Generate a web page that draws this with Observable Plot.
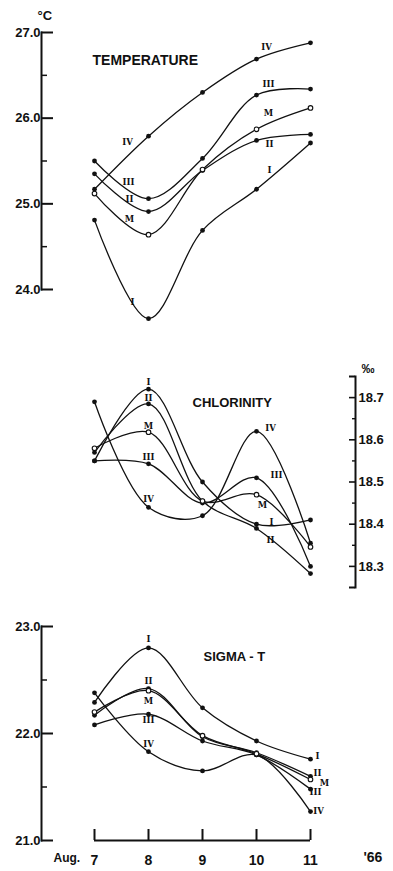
<!DOCTYPE html>
<html>
<head>
<meta charset="utf-8">
<script src="https://cdn.jsdelivr.net/npm/d3@7"></script>
<script src="https://cdn.jsdelivr.net/npm/@observablehq/plot@0.6"></script>
<style>
  html, body { margin: 0; padding: 0; background: #fff; }
  #chart { width: 393px; height: 871px; position: relative; }
  #chart svg { display: block; overflow: visible; }
</style>
</head>
<body>
<div id="chart"></div>
<script>
// ---- data ----
const days = [7, 8, 9, 10, 11];
const stations = ["I", "II", "III", "IV", "M"];

// Temperature (°C)
const temperatureI   = [24.81, 23.66, 24.69, 25.17, 25.71];
const temperatureII  = [25.35, 24.91, 25.39, 25.74, 25.81];
const temperatureIII = [25.50, 25.06, 25.53, 26.27, 26.34];
const temperatureIV  = [25.17, 25.79, 26.30, 26.69, 26.88];
const temperatureM   = [25.12, 24.64, 25.40, 25.87, 26.12];

// Chlorinity (‰)
const chlorinityI   = [18.55, 18.72, 18.50, 18.40, 18.41];
const chlorinityII  = [18.57, 18.685, 18.455, 18.39, 18.283];
const chlorinityIII = [18.55, 18.543, 18.45, 18.51, 18.30];
const chlorinityIV  = [18.69, 18.44, 18.42, 18.62, 18.355];
const chlorinityM   = [18.58, 18.618, 18.455, 18.47, 18.346];

// Sigma-T
const sigmaI   = [22.29, 22.80, 22.24, 21.93, 21.76];
const sigmaII  = [22.17, 22.42, 21.97, 21.82, 21.60];
const sigmaIII = [22.08, 22.18, 21.93, 21.80, 21.48];
const sigmaIV  = [22.38, 21.83, 21.65, 21.80, 21.27];
const sigmaM   = [22.20, 22.40, 21.98, 21.81, 21.57];

// axis ticks
const temperatureTicks = [24, 25, 26, 27];
const temperatureMinor = [24.5, 25.5, 26.5];
const chlorinityTicks = [18.3, 18.4, 18.5, 18.6, 18.7];
const chlorinityMinor = [18.35, 18.45, 18.55, 18.65];
const chlorinityEnds = [18.25, 18.75];
const sigmaTicks = [21, 22, 23];
const sigmaMinor = [21.5, 22.5];
const dayLabels = ["7", "8", "9", "10", "11"];

// station labels: which station / which day they sit next to (offsets are styling)
const temperatureLabels = [
  {s: "IV", d: 8, dx: -21, dy: 6}, {s: "IV", d: 10, dx: 10, dy: -12},
  {s: "III", d: 10, dx: 12, dy: -11}, {s: "III", d: 8, dx: -20, dy: -16},
  {s: "M", d: 10, dx: 12, dy: -16}, {s: "M", d: 8, dx: -19, dy: -15},
  {s: "II", d: 10, dx: 13, dy: 4}, {s: "II", d: 8, dx: -19, dy: -12},
  {s: "I", d: 10, dx: 13, dy: -19}, {s: "I", d: 8, dx: -16, dy: -16}
];
const chlorinityLabels = [
  {s: "I", d: 8, dx: 0, dy: -7}, {s: "II", d: 8, dx: 0, dy: -6},
  {s: "M", d: 8, dx: 0, dy: -6}, {s: "III", d: 8, dx: 0, dy: -7},
  {s: "IV", d: 8, dx: 0, dy: -8},
  {s: "IV", d: 10, dx: 14, dy: -3}, {s: "III", d: 10, dx: 20, dy: -3},
  {s: "M", d: 10, dx: 6, dy: 11}, {s: "I", d: 10, dx: 15, dy: -2},
  {s: "II", d: 10, dx: 14, dy: 12}
];
const sigmaLabels = [
  {s: "I", d: 8, dx: 0, dy: -9}, {s: "II", d: 8, dx: 0, dy: -7},
  {s: "M", d: 8, dx: 0, dy: 11}, {s: "III", d: 8, dx: 0, dy: 6},
  {s: "IV", d: 8, dx: 0, dy: -7},
  {s: "I", d: 11, dx: 7, dy: -3}, {s: "II", d: 11, dx: 7, dy: -3},
  {s: "M", d: 11, dx: 14, dy: 4}, {s: "III", d: 11, dx: 5, dy: 3},
  {s: "IV", d: 11, dx: 8, dy: 0}
];

// ---- build tables ----
function table(byStation) {
  return stations.flatMap(s => days.map((d, i) => ({station: s, day: d, value: byStation[s][i]})));
}
const temperature = table({I: temperatureI, II: temperatureII, III: temperatureIII, IV: temperatureIV, M: temperatureM});
const chlorinity = table({I: chlorinityI, II: chlorinityII, III: chlorinityIII, IV: chlorinityIV, M: chlorinityM});
const sigma = table({I: sigmaI, II: sigmaII, III: sigmaIII, IV: sigmaIV, M: sigmaM});

// ---- layout ----
const W = 393;
const ML = 41, MR = 38;
const frameW = W - ML - MR;
const INK = "#111";
const xScale = {domain: [days[0], days[days.length - 1]], range: [94, 310]};
const baseStyle = {fontFamily: "Liberation Sans, Arial, sans-serif", background: "transparent", overflow: "visible", color: INK};
const f1 = d3.format(".1f");

function seriesMarks(data, labels) {
  const pt = (s, d) => data.find(r => r.station === s && r.day === d);
  return [
    Plot.line(data, {x: "day", y: "value", z: "station", curve: "catmull-rom", stroke: INK, strokeWidth: 1.3}),
    Plot.dot(data.filter(r => r.station !== "M"), {x: "day", y: "value", r: 2.4, fill: INK, stroke: "none"}),
    Plot.dot(data.filter(r => r.station === "M"), {x: "day", y: "value", r: 2.3, fill: "white", stroke: INK, strokeWidth: 1.1}),
    ...labels.map(l => Plot.text([pt(l.s, l.d)], {
      x: "day", y: "value", text: "station", dx: l.dx, dy: l.dy,
      fontSize: 8.5, fontWeight: "bold", fontFamily: "DejaVu Serif, serif", fill: INK
    }))
  ];
}

// Panel 1: temperature
const h1 = 345, top1 = 32, bottom1 = 289;
const temperaturePlot = Plot.plot({
  width: W, height: h1, marginLeft: ML, marginRight: MR, marginTop: top1, marginBottom: h1 - bottom1,
  style: baseStyle,
  x: {...xScale, axis: null},
  y: {domain: [temperatureTicks[0], temperatureTicks[temperatureTicks.length - 1]], label: null},
  marks: [
    Plot.frame({anchor: "left", stroke: INK, strokeWidth: 2}),
    Plot.ruleY(temperatureTicks, {insetRight: frameW - 12, stroke: INK, strokeWidth: 2}),
    Plot.ruleY(temperatureMinor, {insetRight: frameW - 6, stroke: INK, strokeWidth: 1.5}),
    Plot.axisY({ticks: temperatureTicks, tickSize: 0, tickPadding: 1, tickFormat: f1, label: null, fontSize: 13, fontWeight: "bold", fill: INK}),
    Plot.text(["°C"], {frameAnchor: "top-left", dx: -4, dy: -22, fontSize: 13, fontWeight: "bold", fill: INK}),
    Plot.text(["TEMPERATURE"], {frameAnchor: "top-left", dx: 51, dy: 23, textAnchor: "start", fontSize: 14, fontWeight: "bold", fill: INK, letterSpacing: "0.4px"}),
    ...seriesMarks(temperature, temperatureLabels)
  ]
});

// Panel 2: chlorinity (axis on the right)
const h2 = 255, top2 = 31, bottom2 = 242;
const chlorinityPlot = Plot.plot({
  width: W, height: h2, marginLeft: ML, marginRight: MR, marginTop: top2, marginBottom: h2 - bottom2,
  style: baseStyle,
  x: {...xScale, axis: null},
  y: {domain: chlorinityEnds, label: null},
  marks: [
    Plot.frame({anchor: "right", stroke: INK, strokeWidth: 2}),
    Plot.ruleY(chlorinityTicks, {insetLeft: frameW - 6, stroke: INK, strokeWidth: 1.6}),
    Plot.ruleY(chlorinityEnds, {insetLeft: frameW - 6, stroke: INK, strokeWidth: 2}),
    Plot.ruleY(chlorinityMinor, {insetLeft: frameW - 3, stroke: INK, strokeWidth: 1.4}),
    Plot.axisY({anchor: "right", ticks: chlorinityTicks, tickSize: 0, tickPadding: 3, tickFormat: f1, label: null, fontSize: 13, fontWeight: "bold", fill: INK}),
    Plot.text(["‰"], {frameAnchor: "top-right", dx: 19, dy: -13, fontSize: 13, fontWeight: "bold", fill: INK}),
    Plot.text(["CHLORINITY"], {frameAnchor: "top-left", dx: 151, dy: 21, textAnchor: "start", fontSize: 13, fontWeight: "bold", fill: INK, letterSpacing: "2.6px"}),
    ...seriesMarks(chlorinity, chlorinityLabels)
  ]
});

// Panel 3: sigma-T with the shared day axis
const h3 = 271, top3 = 26, bottom3 = 240;
const frameH3 = bottom3 - top3;
const sigmaPlot = Plot.plot({
  width: W, height: h3, marginLeft: ML, marginRight: MR, marginTop: top3, marginBottom: h3 - bottom3,
  style: baseStyle,
  x: {...xScale, label: null},
  y: {domain: [sigmaTicks[0], sigmaTicks[sigmaTicks.length - 1]], label: null},
  marks: [
    Plot.frame({anchor: "left", stroke: INK, strokeWidth: 2}),
    Plot.ruleY(sigmaTicks, {insetRight: frameW - 12, stroke: INK, strokeWidth: 2}),
    Plot.ruleY(sigmaMinor, {insetRight: frameW - 6, stroke: INK, strokeWidth: 1.5}),
    Plot.axisY({ticks: sigmaTicks, tickSize: 0, tickPadding: 1, tickFormat: f1, label: null, fontSize: 13, fontWeight: "bold", fill: INK}),
    Plot.text(["SIGMA - T"], {frameAnchor: "top-left", dx: 162, dy: 25, textAnchor: "start", fontSize: 13, fontWeight: "bold", fill: INK, letterSpacing: "2.8px"}),
    // day axis
    Plot.ruleY([sigmaTicks[0]], {x1: days[0], x2: days[days.length - 1], stroke: INK, strokeWidth: 2}),
    Plot.ruleX(days, {insetTop: frameH3 - 11, stroke: INK, strokeWidth: 2}),
    Plot.axisX({ticks: days, tickSize: 0, tickPadding: 15, tickFormat: (d, i) => dayLabels[i], label: null, fontSize: 14, fontWeight: "bold", fill: INK}),
    Plot.text(["Aug."], {frameAnchor: "bottom-left", dx: 12, dy: 21, fontSize: 12, fontWeight: "bold", fill: INK}),
    Plot.text(["'66"], {frameAnchor: "bottom-left", dx: 322, dy: 21, fontSize: 14, fontWeight: "bold", fill: INK, letterSpacing: "2px"}),
    ...seriesMarks(sigma, sigmaLabels)
  ]
});

const root = document.getElementById("chart");
root.append(temperaturePlot, chlorinityPlot, sigmaPlot);
</script>
</body>
</html>
